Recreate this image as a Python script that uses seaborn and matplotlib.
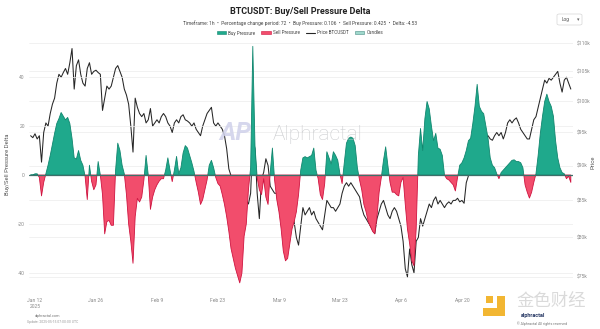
import numpy as np
import pandas as pd
import matplotlib
matplotlib.use("Agg")
import matplotlib.pyplot as plt
import matplotlib.dates as mdates
from matplotlib.lines import Line2D
from matplotlib.patches import Patch, Rectangle, FancyBboxPatch
import seaborn as sns

# ---- data: 12-hour samples, 2025-01-11 00:00 -> 2025-05-15 00:00 ----
start = "2025-01-11 00:00"

price_k = [
    94.5, 94.2, 94.8, 94.0, 94.5, 90.5, 95.0, 96.5, 96.0, 98.0,
    99.5, 100.5, 103.0, 104.5, 104.0, 104.8, 105.5, 104.5, 106.5, 109.0,
    102.0, 106.0, 107.0, 104.5, 103.0, 102.5, 105.5, 106.5, 104.5, 105.0,
    105.2, 104.8, 104.5, 98.5, 100.5, 102.5, 102.0, 102.5, 104.0, 105.5,
    106.0, 105.0, 104.0, 102.0, 101.0, 99.5, 96.0, 92.0, 100.5, 99.0,
    98.0, 97.5, 98.0, 96.5, 97.0, 98.8, 96.0, 96.5, 97.0, 96.5,
    97.5, 98.0, 97.5, 96.5, 96.0, 95.0, 96.5, 97.0, 96.5, 97.5,
    97.8, 97.0, 96.8, 96.5, 96.0, 96.5, 95.5, 95.0, 94.5, 96.0,
    97.0, 98.0, 98.5, 99.0, 96.5, 96.0, 96.5, 96.0, 95.5, 94.5,
    92.5, 89.5, 88.5, 87.5, 86.0, 82.5, 84.0, 80.5, 83.0, 85.0,
    84.5, 86.0, 94.0, 92.5, 86.0, 82.5, 88.0, 89.0, 91.0, 90.0,
    87.0, 86.5, 86.0, 86.0, 84.0, 82.5, 81.5, 79.5, 80.0, 81.0,
    83.5, 82.0, 80.0, 79.0, 81.5, 84.0, 83.0, 83.5, 84.0, 83.0,
    83.5, 82.5, 82.0, 81.5, 81.0, 83.0, 85.0, 84.5, 84.0, 84.0,
    83.5, 84.0, 84.5, 86.0, 87.0, 87.5, 87.0, 87.5, 87.0, 86.5,
    86.0, 85.5, 84.0, 83.0, 82.5, 82.0, 81.5, 81.0, 80.5, 82.5,
    83.5, 84.5, 85.0, 84.0, 83.0, 82.5, 83.5, 84.0, 83.5, 82.5,
    81.5, 79.5, 76.0, 75.0, 78.5, 76.5, 75.5, 79.5, 80.0, 82.5,
    81.5, 82.5, 83.5, 84.5, 84.0, 85.0, 85.5, 84.5, 85.0, 84.5,
    84.0, 84.5, 84.8, 84.5, 85.0, 85.0, 85.3, 84.8, 85.0, 84.6,
    87.5, 88.5, 90.5, 92.0, 93.5, 93.8, 94.0, 94.5, 94.8, 94.0,
    94.5, 94.0, 93.8, 94.5, 95.0, 94.5, 95.0, 94.0, 95.0, 96.5,
    97.0, 96.5, 97.0, 97.3, 96.5, 95.5, 95.0, 94.5, 94.0, 94.0,
    95.5, 97.0, 97.5, 99.0, 100.5, 102.0, 103.5, 103.0, 103.8, 103.5,
    104.0, 104.5, 105.0, 103.0, 101.5, 103.5, 104.0, 103.0, 102.0,
]

delta = [
    0.0, 0.0, 0.5, 0.5, -1.0, -8.5, -3.0, 0.5, 4.0, 8.0,
    12.5, 17.0, 21.0, 23.0, 25.5, 24.0, 22.5, 23.5, 21.0, 15.0,
    7.0, 6.5, 10.0, 6.0, 4.0, -0.5, -10.0, 4.0, -2.6, -6.0,
    -4.0, 5.5, 0.0, -8.0, -24.0, -19.0, -18.5, -20.5, -20.5, 2.0,
    13.0, 10.0, 4.0, 0.5, -8.0, -20.0, -27.0, -36.0, -17.0, -9.5,
    -11.0, -9.0, -2.0, 8.0, 0.0, -14.0, -9.0, -6.0, -4.0, -2.5,
    -1.5, -1.5, 2.0, 7.0, 2.0, -2.7, 2.0, 7.6, 0.5, 3.0,
    9.0, 12.0, 11.0, 8.0, 5.0, 1.5, -3.0, -7.0, -12.0, -10.0,
    -6.0, -2.0, 4.0, 6.0, 3.0, -1.0, -3.5, -4.5, -8.0, -12.0,
    -17.0, -23.0, -30.0, -34.0, -38.0, -41.0, -44.0, -40.0, -25.0, -20.0,
    -6.0, 3.0, 52.5, 12.0, -1.0, -6.0, -8.0, -1.5, -9.0, -12.0,
    1.0, 11.0, -2.0, -10.0, -15.0, -22.0, -31.0, -35.0, -34.0, -28.0,
    -22.0, -19.0, -15.0, -8.0, 2.0, 7.0, 7.5, 7.0, 7.5, 8.0,
    11.0, 2.0, -1.5, -8.0, -10.0, -3.5, 9.5, 7.0, 4.5, 9.5,
    8.0, 6.0, 0.5, -3.5, 5.0, 13.0, 15.0, 15.5, 15.0, 12.0,
    3.0, -2.0, -6.0, -12.0, -15.0, -19.0, -21.0, -23.0, -24.0, -17.0,
    -7.0, -1.0, 6.0, 11.5, 4.0, -3.0, -7.0, -7.0, -8.0, -8.5,
    -3.0, -1.0, -12.0, -22.0, -28.0, -35.0, -37.0, -22.0, 8.0, 19.0,
    10.0, 23.0, 30.0, 27.0, 20.0, 14.0, 17.0, 11.0, 10.5, 8.0,
    0.0, -1.5, -2.0, -3.0, -4.0, -6.5, -1.0, 4.0, 5.0, 7.0,
    10.0, 14.0, 15.0, 21.0, 28.0, 37.0, 28.0, 26.0, 25.0, 20.0,
    15.0, 7.0, 4.0, 3.0, 0.5, -1.5, 1.0, 2.0, 3.0, 4.0,
    5.0, 6.0, 6.2, 5.5, 5.5, 5.0, 3.0, -4.0, -7.0, -9.4,
    -7.0, -3.0, 0.5, 8.0, 17.0, 24.0, 30.0, 33.0, 30.0, 28.0,
    24.0, 14.0, 7.0, 3.0, 1.0, 0.5, -1.5, -0.5, -3.0,
]

tick_dates = ["2025-01-12", "2025-01-26", "2025-02-09", "2025-02-23",
              "2025-03-09", "2025-03-23", "2025-04-06", "2025-04-20"]
tick_labels = ["Jan 12\n2025", "Jan 26", "Feb 9", "Feb 23",
               "Mar 9", "Mar 23", "Apr 6", "Apr 20"]
delta_ticks = [-40, -20, 0, 20, 40]
price_ticks = [75, 80, 85, 90, 95, 100, 105, 110]

# ---- frame ----
times = pd.date_range(start, periods=len(price_k), freq="12h")
df = pd.DataFrame({"time": times, "price": np.array(price_k) * 1000.0,
                   "delta": delta})

BUY = "#1fa98c"
BUY_EDGE = "#11876f"
SELL = "#f24d6c"
SELL_EDGE = "#cf1440"
GRID = "#ececec"
TXT = "#8a8a8a"

sns.set_theme(style="white")
plt.rcParams["font.family"] = ["Roboto", "DejaVu Sans"]

fig = plt.figure(figsize=(6.0, 3.29), dpi=100)
ax = fig.add_axes([29 / 600, 1 - 290 / 329, (573 - 29) / 600, (290 - 38) / 329])
ax2 = ax.twinx()

# delta areas
t = mdates.date2num(df["time"])
d = df["delta"].to_numpy()
ax.fill_between(t, d, 0, where=d >= 0, interpolate=True, color=BUY,
                linewidth=0.6, edgecolor=BUY_EDGE, zorder=2)
ax.fill_between(t, d, 0, where=d <= 0, interpolate=True, color=SELL,
                linewidth=0.6, edgecolor=SELL_EDGE, zorder=2)
ax.axhline(0, color="#3e6f69", linewidth=0.9, zorder=3)

ax.set_ylim(-46.9, 55.9)
ax.set_yticks(delta_ticks)
ax.set_yticklabels([str(v) for v in delta_ticks])
for v in delta_ticks:
    ax.axhline(v, color=GRID, linewidth=0.5, zorder=0)

# price line on log axis
sns.lineplot(data=df, x="time", y="price", ax=ax2, color="#262626",
             linewidth=0.75, zorder=4, legend=False)
ax2.set_yscale("log")
ax2.set_ylim(73400, 110900)
ax2.set_yticks([p * 1000 for p in price_ticks])
ax2.set_yticklabels([f"${p}k" for p in price_ticks])
ax2.yaxis.set_minor_locator(matplotlib.ticker.NullLocator())
for p in price_ticks:
    ax2.axhline(p * 1000, color=GRID, linewidth=0.5, zorder=0)
ax.set_zorder(ax2.get_zorder() + 1)
ax.patch.set_visible(False)

# x axis
ax.set_xlim(pd.Timestamp("2025-01-10 15:00"), pd.Timestamp("2025-05-15 12:00"))
ax.set_xticks(pd.to_datetime(tick_dates))
ax.set_xticklabels(tick_labels)
ax2.set_xlabel("")

for a in (ax, ax2):
    for s in a.spines.values():
        s.set_visible(False)
    a.tick_params(length=0, labelsize=3.6, colors=TXT, pad=3)
ax.tick_params(axis="x", pad=6)
ax.set_ylabel("Buy/Sell Pressure Delta", fontsize=4.2, color="#555555", labelpad=6)
ax2.set_ylabel("")
fig.text(593 / 600, 1 - 162 / 329, "Price", rotation=90, fontsize=4.2,
         color="#555555", ha="center", va="center")
ax.set_xlabel("")

# titles
fig.text(0.5, 1 - 12 / 329, "BTCUSDT: Buy/Sell Pressure Delta", ha="center",
         va="center", fontsize=6.5, fontweight="bold", color="#222222")
fig.text(0.5, 1 - 23 / 329,
         "Timeframe: 1h  \u2022  Percentage change period: 72  \u2022  Buy Pressure: 0.106  \u2022  "
         "Sell Pressure: 0.425  \u2022  Delta: -4.53",
         ha="center", va="center", fontsize=3.5, color="#444444")

handles = [Patch(facecolor=BUY, edgecolor=BUY_EDGE, linewidth=0.4),
           Patch(facecolor=SELL, edgecolor=SELL_EDGE, linewidth=0.4),
           Line2D([0], [0], color="#262626", linewidth=0.8),
           Patch(facecolor="#9fd8cc", edgecolor="#4b8f86", linewidth=0.4)]
fig.legend(handles, ["Buy Pressure", "Sell Pressure", "Price BTCUSDT", "Candles"],
           loc="center", bbox_to_anchor=(0.5, 1 - 33 / 329), ncol=4, frameon=False,
           fontsize=3.3, handlelength=2.0, handleheight=0.6, columnspacing=1.3,
           handletextpad=0.5, labelcolor="#444444")

# scale selector
fig.patches.append(FancyBboxPatch((557 / 600, 1 - 25 / 329), 25 / 600, 11 / 329,
                                  boxstyle="round,pad=0,rounding_size=0.004",
                                  transform=fig.transFigure, facecolor="white",
                                  edgecolor="#d6d6d6", linewidth=0.5))
fig.text(562 / 600, 1 - 19.5 / 329, "Log", fontsize=3.4, color="#555555", va="center")
fig.text(577 / 600, 1 - 19.5 / 329, "\u25be", fontsize=3.6, color="#666666", va="center")

# brand watermark
fig.text(235 / 600, 1 - 133 / 329, "AP", fontsize=18, fontweight="bold", color="#cfd1ea",
         ha="center", va="center", style="italic", alpha=0.85, zorder=1)
fig.text(318 / 600, 1 - 135 / 329, "Alphractal", fontsize=15, fontweight="light",
         color="#c2c4c7", ha="center", va="center", alpha=0.85, zorder=1)

# footer
fig.text(48 / 600, 1 - 316 / 329, "alphractal.com", fontsize=2.8, color="#777777",
         ha="center", va="center")
fig.text(53 / 600, 1 - 322 / 329, "Update: 2025-05-15 07:00:00 UTC", fontsize=2.4,
         color="#9a9a9a", ha="center", va="center")
fig.text(542 / 600, 1 - 323.5 / 329, "\u00a9 Alphractal All rights reserved", fontsize=2.6,
         color="#777777", ha="center", va="center")

# source watermark, lower right
for (x0, y0, w, h) in [(497, 296, 8, 20), (483, 308, 22, 8), (486, 296, 7, 7)]:
    fig.patches.append(Rectangle((x0 / 600, 1 - (y0 + h) / 329), w / 600, h / 329,
                                 transform=fig.transFigure, facecolor="#f2b632",
                                 edgecolor="none"))
fig.text(551 / 600, 1 - 301 / 329, "金色财经", fontsize=12.5, color="#d6d6d6",
         ha="center", va="center", family=["Noto Sans CJK SC", "DejaVu Sans"], alpha=0.9)
fig.text(533 / 600, 1 - 315 / 329, "alphractal", fontsize=4.0, color="#2a3b66",
         ha="center", va="center", fontweight="bold")

fig.savefig("out.png", dpi=100)
